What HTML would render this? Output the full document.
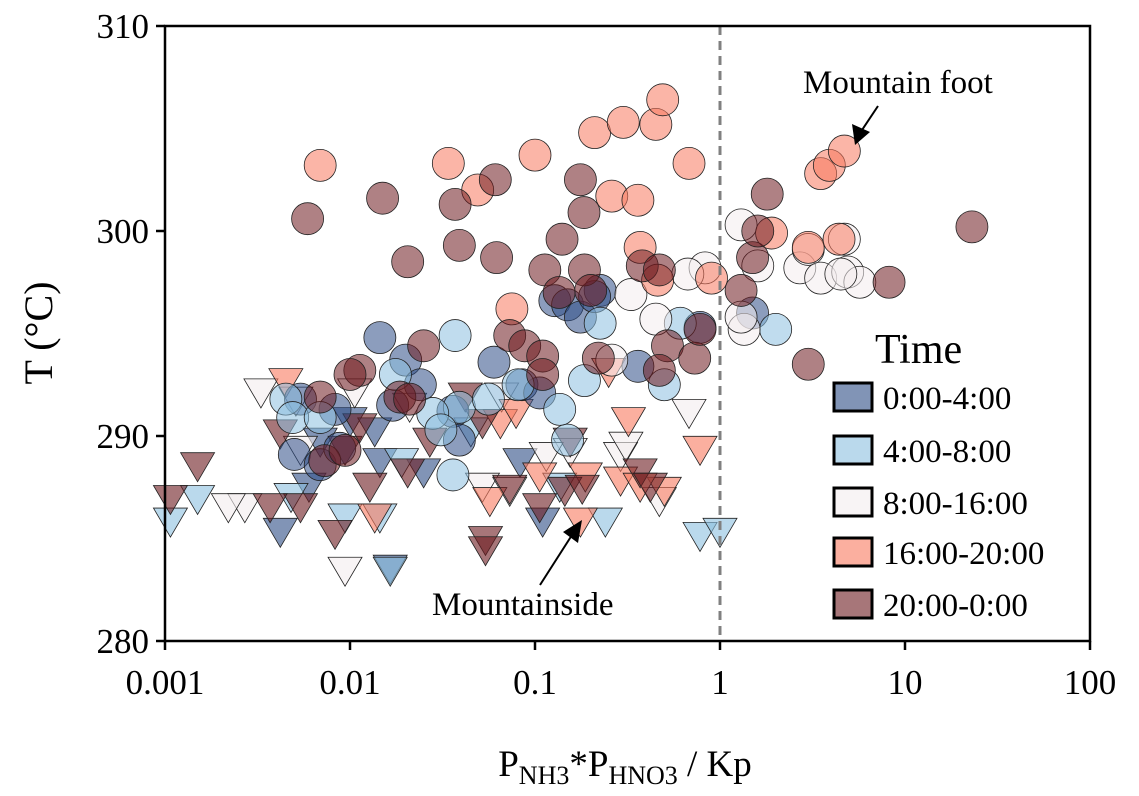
<!DOCTYPE html>
<html><head><meta charset="utf-8"><style>
body{margin:0;background:#fff;}
svg text{font-family:"Liberation Serif",serif;fill:#000;}
</style></head><body>
<svg id="chart" width="1139" height="791" viewBox="0 0 1139 791" xmlns="http://www.w3.org/2000/svg">
<g id="marks"></g>
<g id="axes"></g>
</svg>
<script>
const groups = ["0:00-4:00","4:00-8:00","8:00-16:00","16:00-20:00","20:00-0:00"];
const colors = ["#2d4d86","#8cc0e0","#f4ecee","#f8795f","#6d1a1f"];
// circles (Mountain foot), x = P*P/Kp, y = T
const c0x=[0.0145,0.02,0.06,0.128,0.15,0.176,0.225,0.21,0.36,0.78,1.5,0.085,0.106,0.005,0.0069,0.0088,0.036,0.039,0.017,0.024,0.0054,0.0083];
const c0y=[294.8,293.7,293.6,296.6,296.4,295.8,297.1,296.8,293.4,295.3,296,292.5,292.1,289.1,288.6,289.4,291.2,289.8,291.5,292.5,291.8,291.3];
const c1x=[0.0045,0.0049,0.037,0.039,0.036,0.056,0.081,0.225,0.185,0.15,0.5,0.61,2.0,0.136,0.0176,0.0069,0.028,0.031];
const c1y=[291.8,290.9,294.9,291.4,288.1,291.8,292.5,295.5,292.7,289.8,292.5,295.5,295.2,291.3,293,290.9,291.1,290.3];
const c2x=[1.3,1.6,1.35,1.3,2.7,3.0,3.5,4.7,4.9,5.7,4.5,0.83,0.67,0.33,0.45,0.26];
const c2y=[300.3,298.3,295.2,295.8,298.2,299.1,297.7,299.6,298,297.5,297.9,298.2,297.9,296.9,295.7,293.7];
const c3x=[0.0069,0.034,0.1,0.21,0.3,0.45,0.49,0.26,0.36,0.68,0.049,0.075,0.37,0.46,0.9,1.9,3.0,3.5,3.9,4.7,4.4];
const c3y=[303.2,303.3,303.7,304.8,305.3,305.2,306.4,301.7,301.5,303.3,302,296.2,299.2,297.6,297.7,299.9,299.2,302.8,303.2,303.9,299.6];
const c4x=[0.0059,0.015,0.0205,0.037,0.039,0.061,0.062,0.176,0.184,0.14,0.113,0.185,0.2,0.135,0.073,0.088,0.11,0.11,0.22,0.38,0.47,0.52,0.73,0.78,0.47,1.3,1.5,1.8,1.6,3.0,8.2,23,0.025,0.0113,0.01,0.0069,0.0186,0.021,0.0073,0.0094];
const c4y=[300.6,301.6,298.5,301.3,299.3,302.5,298.7,302.5,300.9,299.6,298.1,298.1,297.1,297,294.9,294.4,293.9,293,293.8,298.3,298.1,294.4,293.8,295.2,293.2,297.1,298.7,301.8,300,293.5,297.5,300.2,294.4,293.2,293,291.9,291.9,291.8,288.8,289.3];
// triangles (Mountainside)
const t0x=[0.0165,0.0042,0.006,0.0145,0.025,0.083,0.11,0.01,0.0136,0.0069];
const t0y=[283.6,285.4,287.6,288.8,288.3,288.8,285.9,290.8,290.3,289.8];
const t1x=[0.00107,0.0015,0.0165,0.24,0.78,1,0.0048,0.0145,0.0094,0.136,0.045,0.019];
const t1y=[285.9,287,283.5,285.9,285.2,285.4,287.1,286.1,286.1,287.6,290.3,288.8];
const t2x=[0.0027,0.0022,0.0033,0.0094,0.0051,0.0106,0.29,0.31,0.68,0.47,0.155,0.115,0.052,0.073,0.0054,0.021,0.066];
const t2y=[286.6,286.6,292.2,283.5,291.8,292.2,289.1,289.6,291.2,286.9,289.3,289.1,287.6,287.4,289.4,291.5,292];
const t3x=[0.0045,0.0136,0.25,0.32,0.78,0.187,0.176,0.106,0.065,0.079,0.057,0.29,0.5,0.37];
const t3y=[292.7,286.1,293.2,290.8,289.4,288.1,285.9,288.1,290.7,291.2,286.9,287.9,287.4,287.6];
const t4x=[0.0015,0.00107,0.0042,0.0054,0.0083,0.0094,0.0128,0.0205,0.054,0.054,0.106,0.145,0.18,0.073,0.042,0.052,0.155,0.37,0.42,0.027,0.0113,0.0037];
const t4y=[288.6,287,290.2,286.6,285.3,289.4,287.6,288.3,285,284.5,286.6,287.4,287.5,287.5,292,290.7,289.8,288.3,287.6,289.8,290.5,286.6];
const xTicks=[0.001,0.01,0.1,1,10,100];
const xTickLabels=["0.001","0.01","0.1","1","10","100"];
const yTicks=[280,290,300,310];

const L=165,R=1090,T=26,B=641;
const xs=v=>L+(Math.log10(v)+3)/5*(R-L);
const ys=v=>B-(v-280)/30*(B-T);
const NS="http://www.w3.org/2000/svg";
function mk(tag,attrs,parent){const e=document.createElementNS(NS,tag);for(const k in attrs)e.setAttribute(k,attrs[k]);parent.appendChild(e);return e;}
const marks=document.getElementById('marks'), axes=document.getElementById('axes');

const tri=[[t0x,t0y],[t1x,t1y],[t2x,t2y],[t3x,t3y],[t4x,t4y]];
const cir=[[c0x,c0y],[c1x,c1y],[c2x,c2y],[c3x,c3y],[c4x,c4y]];
tri.forEach((s,g)=>s[0].forEach((xv,i)=>{
  const cx=xs(xv),cy=ys(s[1][i]);
  const p=mk('polygon',{points:`${cx-17},${cy-12} ${cx+17},${cy-12} ${cx},${cy+17}`,fill:colors[g],'fill-opacity':0.6,stroke:'#222','stroke-width':0.8},marks);
  
  
}));
cir.forEach((s,g)=>s[0].forEach((xv,i)=>{
  const c=mk('circle',{cx:xs(xv),cy:ys(s[1][i]),r:16,fill:colors[g],'fill-opacity':0.55,stroke:'#222','stroke-width':0.8},marks);
  
  
}));

const dl=mk('line',{x1:xs(1),x2:xs(1),y1:T,y2:B,stroke:'#808080','stroke-width':3,'stroke-dasharray':'9,6'},axes);


const fr=mk('rect',{x:L,y:T,width:R-L,height:B-T,fill:'none',stroke:'#000','stroke-width':2.5},axes);


xTicks.forEach((v,i)=>{
  const x=xs(v);
  mk('line',{x1:x,x2:x,y1:B,y2:B+9,stroke:'#000','stroke-width':2.5},axes);
  const t=mk('text',{x:x,y:B+53,'font-size':35,'text-anchor':'middle'},axes);
  t.textContent=xTickLabels[i];
  
  
});
yTicks.forEach(v=>{
  const y=ys(v);
  mk('line',{x1:L-9,x2:L,y1:y,y2:y,stroke:'#000','stroke-width':2.5},axes);
  const t=mk('text',{x:L-16,y:y+12,'font-size':35,'text-anchor':'end'},axes);
  t.textContent=String(v);
  
  
});
</script>
<svg width="1139" height="791" style="position:absolute;left:0;top:0" xmlns="http://www.w3.org/2000/svg">
<text x="52" y="333" font-size="40" text-anchor="middle" transform="rotate(-90 52 333)">T (°C)</text>
<text x="625" y="776" font-size="37" text-anchor="middle">P<tspan font-size="26" dy="8">NH3</tspan><tspan dy="-8">*P</tspan><tspan font-size="26" dy="8">HNO3</tspan><tspan dy="-8"> / Kp</tspan></text>
<text x="803" y="93" font-size="33">Mountain foot</text>
<line x1="878" y1="106" x2="862" y2="130" stroke="#000" stroke-width="2"/>
<polygon points="855,145 852,124 870,132" fill="#000"/>
<text x="432" y="615" font-size="33">Mountainside</text>
<line x1="540" y1="585" x2="572" y2="535" stroke="#000" stroke-width="2"/>
<polygon points="582,520 578,543 563,532" fill="#000"/>
<g>
<text x="875" y="363" font-size="42">Time</text>
<g><rect x="834" y="383" width="38" height="28" fill="#2d4d86" fill-opacity="0.6" stroke="#000" stroke-width="3"/><text x="883" y="409" font-size="33">0:00-4:00</text></g>
<g><rect x="834" y="436" width="38" height="28" fill="#8cc0e0" fill-opacity="0.6" stroke="#000" stroke-width="3"/><text x="883" y="462" font-size="33">4:00-8:00</text></g>
<g><rect x="834" y="488" width="38" height="28" fill="#f4ecee" fill-opacity="0.6" stroke="#000" stroke-width="3"/><text x="883" y="514" font-size="33">8:00-16:00</text></g>
<g><rect x="834" y="538" width="38" height="28" fill="#f8795f" fill-opacity="0.6" stroke="#000" stroke-width="3"/><text x="883" y="564" font-size="33">16:00-20:00</text></g>
<g><rect x="834" y="590" width="38" height="28" fill="#6d1a1f" fill-opacity="0.6" stroke="#000" stroke-width="3"/><text x="883" y="616" font-size="33">20:00-0:00</text></g>
</g>
</svg>
</body></html>
